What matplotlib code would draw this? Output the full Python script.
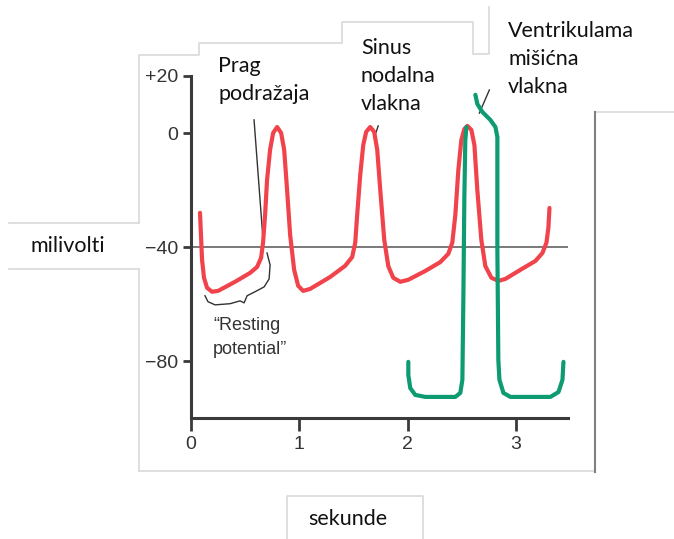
import matplotlib.pyplot as plt
from matplotlib.lines import Line2D

# sinus node fibre trace (seconds, millivolts)
sa_t = [0.083, 0.092, 0.102, 0.120, 0.148, 0.194, 0.250, 0.407, 0.545, 0.610, 0.647, 0.665, 0.684,
        0.702, 0.730, 0.758, 0.795, 0.832, 0.860, 0.887, 0.915, 0.952, 0.989, 1.035, 1.100, 1.285,
        1.423, 1.488, 1.516, 1.534, 1.562, 1.590, 1.617, 1.654, 1.691, 1.719, 1.747, 1.784, 1.821,
        1.867, 1.932, 2.006, 2.163, 2.301, 2.375, 2.412, 2.440, 2.468, 2.495, 2.523, 2.551, 2.588,
        2.616, 2.643, 2.680, 2.717, 2.773, 2.837, 2.902, 3.041, 3.179, 3.244, 3.281, 3.299, 3.309]
sa_mv = [-28.0, -35.7, -44.5, -50.8, -54.3, -55.7, -55.4, -52.2, -49.1, -47.0, -43.8, -38.5, -28.7,
         -16.5, -5.9, 0.0, 2.1, 0.0, -5.9, -20.0, -35.7, -48.0, -53.6, -55.4, -54.7, -50.5,
         -46.6, -43.5, -38.5, -28.7, -14.8, -4.2, 0.4, 2.1, 0.4, -5.9, -20.0, -37.5, -46.7,
         -50.8, -52.2, -51.5, -48.4, -45.3, -42.4, -38.5, -28.7, -12.9, -2.5, 1.4, 2.5, 1.1,
         -4.2, -20.0, -37.5, -46.7, -50.8, -51.9, -51.2, -48.0, -44.9, -42.1, -38.5, -33.2, -26.3]

# ventricular muscle fibre trace, two visible pieces
v1_t = [2.006, 2.006, 2.024, 2.070, 2.163, 2.440, 2.486, 2.505, 2.514, 2.523, 2.532, 2.542]
v1_mv = [-80.3, -84.9, -89.5, -91.9, -92.6, -92.6, -91.2, -86.6, -58.5, -23.4, -2.5, 2.1]
v2_t = [2.625, 2.643, 2.689, 2.763, 2.810, 2.828, 2.828, 2.837, 2.847, 2.884, 2.948, 3.318,
        3.392, 3.429, 3.438]
v2_mv = [13.4, 10.2, 7.4, 4.6, 2.1, -1.4, -41.0, -79.6, -86.6, -91.2, -92.6, -92.6,
         -90.9, -86.6, -80.3]

# brace under the resting potential
brace_t = [0.129, 0.157, 0.222, 0.360, 0.453, 0.490, 0.518, 0.591, 0.675, 0.721, 0.730, 0.702]
brace_mv = [-57.1, -59.2, -60.3, -59.9, -58.9, -59.6, -57.1, -55.7, -54.0, -51.2, -46.3, -42.1]

threshold = -40
yticks = [20, 0, -40, -80]
yticklabels = ['+20', '0', '\u221240', '\u221280']
xticks = [0, 1, 2, 3]

W, H = 674, 539
fig = plt.figure(figsize=(W / 100, H / 100), dpi=100)
fig.patch.set_facecolor('white')


def fx(x):
    return x / W


def fy(y):
    return 1 - y / H


# pasted label boxes (pixel outlines)
border = '#d9d9d9'
paths = [
    [(139, 471), (139, 269)],
    [(139, 223), (139, 55), (199, 55), (199, 43), (342, 43), (342, 22), (473, 22),
     (473, 54), (489, 54), (489, 7)],
    [(9, 223), (139, 223)],
    [(9, 269), (139, 269)],
    [(139, 471), (595, 471)],
    [(595, 112), (674, 112)],
    [(287, 539), (287, 496), (423, 496), (423, 539)],
]
for p in paths:
    fig.add_artist(Line2D([fx(a) for a, b in p], [fy(b) for a, b in p],
                          color=border, lw=1.2))
fig.add_artist(Line2D([fx(595), fx(595)], [fy(112), fy(472)], color='#808080', lw=1.5))

ax = fig.add_axes([fx(191), fy(418), (568 - 191) / W, (418 - 76) / H])
ax.set_xlim(0, 3.48)
ax.set_ylim(-100, 20)
ax.patch.set_alpha(0)

ax.axhline(threshold, color='#555555', lw=1.1, zorder=1)
ax.plot(sa_t, sa_mv, color='#f0434c', lw=3.0, solid_capstyle='round',
        solid_joinstyle='round', zorder=3)
ax.plot(v1_t, v1_mv, color='#0d9b72', lw=3.0, solid_capstyle='round',
        solid_joinstyle='round', zorder=4)
ax.plot(v2_t, v2_mv, color='#0d9b72', lw=3.0, solid_capstyle='round',
        solid_joinstyle='round', zorder=4)
ax.plot(brace_t, brace_mv, color='#333333', lw=1.0, zorder=2)

# pointer lines
ax.plot([0.582, 0.665], [4.6, -37.5], color='#333333', lw=1.0)
ax.plot([1.728, 1.691], [2.5, -1.7], color='#333333', lw=1.0)
ax.plot([2.754, 2.662], [15.1, 7.0], color='#333333', lw=1.0)

for s in ['top', 'right']:
    ax.spines[s].set_visible(False)
for s in ['left', 'bottom']:
    ax.spines[s].set_color('#3a3a3a')
    ax.spines[s].set_linewidth(2.2)

tick_font = ['Liberation Sans Narrow', 'Liberation Sans', 'DejaVu Sans']
ax.set_yticks(yticks)
ax.set_yticklabels(yticklabels, family=tick_font, fontsize=14, color='#333333')
ax.set_xticks(xticks)
ax.set_xticklabels([str(t) for t in xticks], family=tick_font, fontsize=14,
                   color='#333333')
ax.tick_params(axis='y', length=6, width=2, color='#3a3a3a', pad=3)
ax.tick_params(axis='x', length=9, width=2, color='#3a3a3a', pad=4)

ax.text(0.203, -67.5, '\u201cResting', family=tick_font, fontsize=13, color='#333333',
        va='center', ha='left')
ax.text(0.203, -76.0, 'potential\u201d', family=tick_font, fontsize=13, color='#333333',
        va='center', ha='left')

lab_font = ['Lato', 'DejaVu Sans']
lab = dict(family=lab_font, fontsize=15.5, color='#111111', va='center', ha='left',
           linespacing=1.5)
fig.text(fx(218), fy(80), 'Prag\npodražaja', **lab)
fig.text(fx(361), fy(76), 'Sinus\nnodalna\nvlakna', **lab)
fig.text(fx(508), fy(59), 'Ventrikulama\nmišićna\nvlakna', **lab)
fig.text(fx(68), fy(246), 'milivolti', family=lab_font, fontsize=15.5, color='#111111',
         va='center', ha='center')
fig.text(fx(348), fy(519), 'sekunde', family=lab_font, fontsize=15.5, color='#111111',
         va='center', ha='center')

fig.savefig('out.png', dpi=100, facecolor='white')
